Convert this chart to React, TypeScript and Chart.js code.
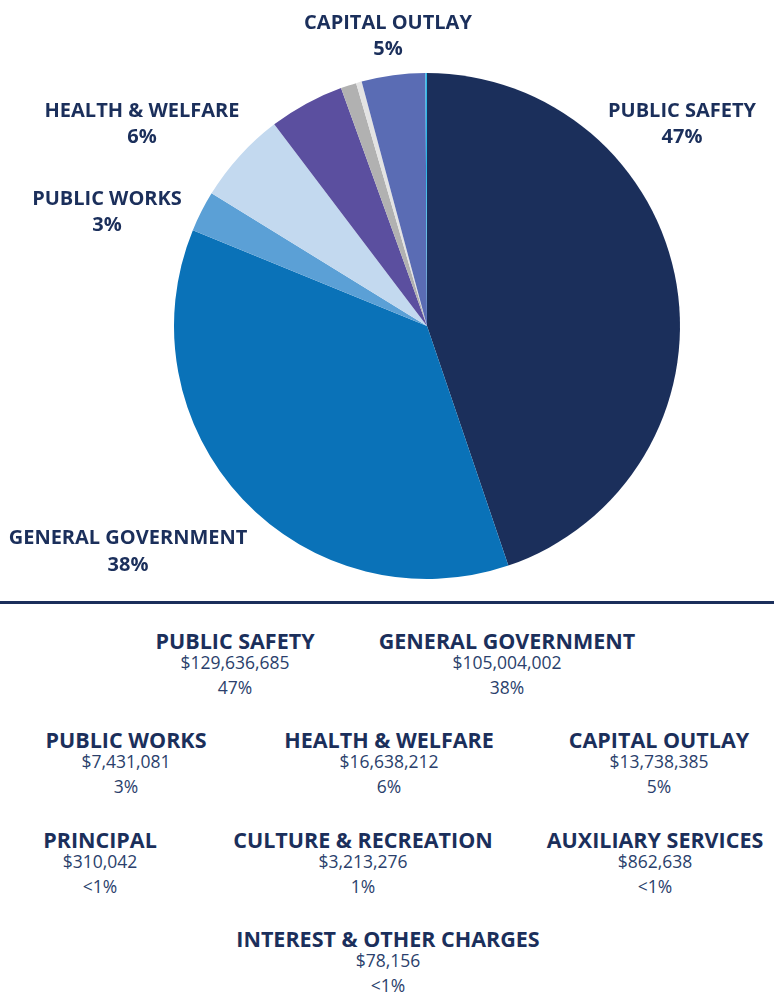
import React, { useEffect, useRef } from "react";
import { Chart, registerables } from "chart.js";

Chart.register(...registerables);

// Pie slices (clockwise from 12 o'clock), shares (%)
const pieLabels = [
  "Public Safety",
  "General Government",
  "Public Works",
  "Health & Welfare",
  "Culture & Recreation",
  "Auxiliary Services",
  "Principal",
  "Capital Outlay",
  "Interest & Other Charges",
];
const pieShares = [44.8, 36.4, 2.6, 5.9, 4.8, 1.0, 0.36, 4.06, 0.1];
const pieColors = [
  "#1b2f5b",
  "#0a72b8",
  "#5ba0d6",
  "#c3d9ef",
  "#5b4f9f",
  "#b1b1b1",
  "#e3e3e3",
  "#5a6cb4",
  "#2bb8e8",
];

// Pie callouts
const calloutNames = ["CAPITAL OUTLAY", "HEALTH & WELFARE", "PUBLIC WORKS", "PUBLIC SAFETY", "GENERAL GOVERNMENT"];
const calloutPcts = ["5%", "6%", "3%", "47%", "38%"];

// Table below the chart
const categories = [
  "PUBLIC SAFETY",
  "GENERAL GOVERNMENT",
  "PUBLIC WORKS",
  "HEALTH & WELFARE",
  "CAPITAL OUTLAY",
  "PRINCIPAL",
  "CULTURE & RECREATION",
  "AUXILIARY SERVICES",
  "INTEREST & OTHER CHARGES",
];
const amounts = ["$129,636,685", "$105,004,002", "$7,431,081", "$16,638,212", "$13,738,385", "$310,042", "$3,213,276", "$862,638", "$78,156"];
const percents = ["47%", "38%", "3%", "6%", "5%", "<1%", "1%", "<1%", "<1%"];

const NAVY = "#1b2f5b";

// layout positions (centers)
const calloutPos = [
  [388, 22, 48],
  [142, 110, 136],
  [107, 198, 224],
  [682, 110, 136],
  [128, 537, 564],
];
const tablePos = [
  [235, 641],
  [507, 641],
  [126, 740],
  [389, 740],
  [659, 740],
  [100, 840],
  [363, 840],
  [655, 840],
  [388, 939],
];

function T({ x, y, text, size, bold, color }: any) {
  return (
    <div
      style={{
        position: "absolute",
        left: x,
        top: y,
        transform: "translate(-50%,-50%)",
        whiteSpace: "nowrap",
        fontFamily: "'Open Sans', sans-serif",
        fontWeight: bold ? 700 : 400,
        fontSize: size,
        lineHeight: 1,
        color: color || NAVY,
      }}
    >
      {text}
    </div>
  );
}

export default function App() {
  const ref = useRef<HTMLCanvasElement>(null);
  useEffect(() => {
    const chart = new Chart(ref.current!, {
      type: "pie",
      data: {
        labels: pieLabels,
        datasets: [
          {
            data: pieShares,
            backgroundColor: pieColors,
            borderWidth: 0,
            hoverOffset: 0,
          },
        ],
      },
      options: {
        animation: false,
        responsive: true,
        maintainAspectRatio: false,
        radius: 253,
        layout: { padding: { left: 80, top: 52, right: 0, bottom: 0 } },
        plugins: { legend: { display: false }, tooltip: { enabled: false } },
      } as any,
    });
    return () => chart.destroy();
  }, []);

  return (
    <div style={{ position: "absolute", left: 0, top: 0, width: 774, height: 992, background: "#fff", overflow: "hidden" }}>
      <div style={{ position: "absolute", left: 0, top: 0, width: 774, height: 600 }}>
        <canvas ref={ref} />
      </div>
      {calloutNames.map((n, i) => (
        <React.Fragment key={n}>
          <T x={calloutPos[i][0]} y={calloutPos[i][1]} text={n} size={20} bold />
          <T x={calloutPos[i][0]} y={calloutPos[i][2]} text={calloutPcts[i]} size={20} bold />
        </React.Fragment>
      ))}
      <div style={{ position: "absolute", left: 0, top: 601, width: 774, height: 3, background: NAVY }} />
      {categories.map((c, i) => (
        <React.Fragment key={c}>
          <T x={tablePos[i][0]} y={tablePos[i][1]} text={c} size={21.5} bold />
          <T x={tablePos[i][0]} y={tablePos[i][1] + 22} text={amounts[i]} size={17.5} color="#2b3f6c" />
          <T x={tablePos[i][0]} y={tablePos[i][1] + 47} text={percents[i]} size={17.5} color="#2b3f6c" />
        </React.Fragment>
      ))}
    </div>
  );
}
